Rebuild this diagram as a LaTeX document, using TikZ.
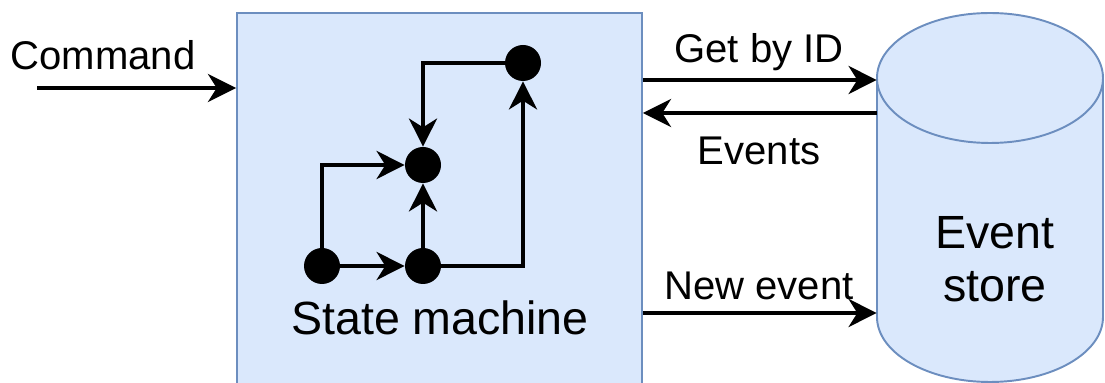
\documentclass[tikz,border=0pt]{standalone}
\usepackage{fontspec}
\setmainfont{Liberation Sans}
\usetikzlibrary{arrows.meta}
\definecolor{smfill}{HTML}{DAE8FC}
\definecolor{smline}{HTML}{6C8EBF}

\begin{document}
\begin{tikzpicture}[
  x=0.2mm, y=0.2mm,
  box/.style={draw=smline, fill=smfill, line width=1.1pt, minimum width=81mm, minimum height=78mm, inner sep=0pt},
  dot/.style={circle, fill=black, minimum size=7.2mm, inner sep=0pt},
  flow/.style={-{Stealth[length=16pt, width=16pt, inset=5pt]}, line width=1.9pt},
  lbl/.style={font=\fontsize{22.8}{27}\selectfont, inner sep=0pt, anchor=base},
  big/.style={font=\fontsize{26.5}{30.7}\selectfont, inner sep=0pt, anchor=base, align=center},
  cyl/.style={draw=smline, fill=smfill, line width=1.1pt},
]
\useasboundingbox (0,0) rectangle (1105,383);
\clip (0,0) rectangle (1105,383);

% ---------------- state machine
\node[box] (sm) at (439.5,175) {};
\node[big] (smname) at (440,48) {State machine};
\node[dot] (s1) at (322,117) {};
\node[dot] (s2) at (423,117) {};
\node[dot] (s3) at (423,218) {};
\node[dot] (s4) at (523,320) {};

\draw[flow] (s1) -- (s2);
\draw[flow] (s1.north) |- (s3.west);
\draw[flow] (s2) -- (s3);
\draw[flow] (s2.east) -| (s4.south);
\draw[flow] (s4.west) -| (s3.north);

% ---------------- event store
\filldraw[cyl] (877,305) -- (877,66) arc[start angle=180, end angle=360, x radius=113, y radius=65] -- (1103,305);
\draw[cyl] (990,305) ellipse [x radius=113, y radius=65];
\node[minimum width=45.2mm, minimum height=74mm, inner sep=0pt] (store) at (990,185) {};
\node[big] (storename) at (995,81) {Event\\store};

% ---------------- flows
\coordinate (cmd) at (37,295);
\node[lbl] (cmdlbl) at (103,313) {Command};
\draw[flow] (cmd) -- (cmd -| sm.west);

\coordinate (get) at (760,303);
\coordinate (evs) at (760,270);
\coordinate (new) at (760,70);
\draw[flow] (get -| sm.east) -- (get -| store.west);
\draw[flow] (evs -| store.west) -- (evs -| sm.east);
\draw[flow] (new -| sm.east) -- (new -| store.west);
\node[lbl] (getlbl) at (759,320) {Get by ID};
\node[lbl] (evslbl) at (759,218) {Events};
\node[lbl] (newlbl) at (759,83) {New event};

\end{tikzpicture}
\end{document}
